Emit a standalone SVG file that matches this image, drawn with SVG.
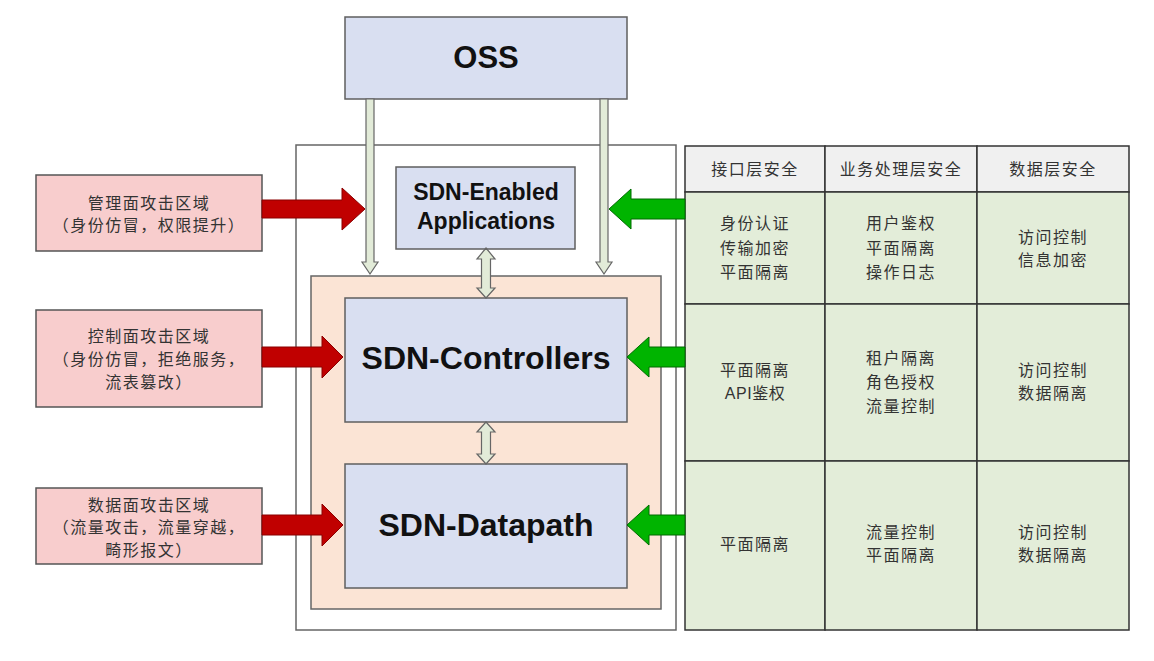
<svg xmlns="http://www.w3.org/2000/svg" width="1154" height="661" viewBox="0 0 1154 661">
<style>
.blue{fill:#d9dff1;stroke:#5f5f5f;stroke-width:1.5}
.big{font-family:"Liberation Sans",Arial,sans-serif;font-weight:bold;fill:#111;text-anchor:middle}
.cn{font-family:"Liberation Sans","Noto Sans CJK SC",sans-serif;font-size:16px;fill:#333;text-anchor:middle;letter-spacing:1.5px}
.pink{fill:#f8cdcd;stroke:#555;stroke-width:1.5}
.red{fill:#c00000;stroke:#8a0000;stroke-width:1}
.green{fill:#00b400;stroke:#006b00;stroke-width:1}
.conn{fill:#e2ebd8;stroke:#666;stroke-width:1.2}
.cell{fill:#e3edd9;stroke:#333;stroke-width:1.5}
.head{fill:#f0f0f0;stroke:#333;stroke-width:1.5}
</style>
<rect width="1154" height="661" fill="#fff"/>
<g id="outer"><rect x="296" y="145" width="380" height="485" fill="#fff" stroke="#666" stroke-width="1.5"/></g>
<g id="core"><rect x="311" y="276" width="350" height="333" fill="#fbe4d5" stroke="#666" stroke-width="1.5"/></g>
<g id="oss"><rect class="blue" x="345" y="17" width="282" height="82"/><text class="big" x="486" y="68" font-size="31">OSS</text></g>
<g id="apps"><rect class="blue" x="396" y="167" width="179" height="82"/><text class="big" x="486" y="200" font-size="23">SDN-Enabled</text><text class="big" x="486" y="229" font-size="23">Applications</text></g>
<g id="controllers"><rect class="blue" x="345" y="298" width="282" height="124"/><text class="big" x="486" y="369" font-size="32">SDN-Controllers</text></g>
<g id="datapath"><rect class="blue" x="345" y="464" width="282" height="124"/><text class="big" x="486" y="536" font-size="32">SDN-Datapath</text></g>
<g id="mgmt-attack"><rect class="pink" x="36" y="175" width="226" height="76"/><text class="cn" x="149" y="209">管理面攻击区域</text><text class="cn" x="149" y="231">（身份仿冒，权限提升）</text></g>
<g id="ctrl-attack"><rect class="pink" x="36" y="310" width="226" height="97"/><text class="cn" x="149" y="342">控制面攻击区域</text><text class="cn" x="149" y="365">（身份仿冒，拒绝服务，</text><text class="cn" x="149" y="388">流表篡改）</text></g>
<g id="data-attack"><rect class="pink" x="36" y="488" width="226" height="76"/><text class="cn" x="149" y="511">数据面攻击区域</text><text class="cn" x="149" y="533">（流量攻击，流量穿越，</text><text class="cn" x="149" y="556">畸形报文）</text></g>
<g id="security-table">
<rect class="head" x="685" y="146" width="140" height="46"/><rect class="head" x="825" y="146" width="152" height="46"/><rect class="head" x="977" y="146" width="152" height="46"/>
<rect class="cell" x="685" y="192" width="140" height="112"/><rect class="cell" x="825" y="192" width="152" height="112"/><rect class="cell" x="977" y="192" width="152" height="112"/>
<rect class="cell" x="685" y="304" width="140" height="157"/><rect class="cell" x="825" y="304" width="152" height="157"/><rect class="cell" x="977" y="304" width="152" height="157"/>
<rect class="cell" x="685" y="461" width="140" height="169"/><rect class="cell" x="825" y="461" width="152" height="169"/><rect class="cell" x="977" y="461" width="152" height="169"/>
<text class="cn" x="755" y="175">接口层安全</text><text class="cn" x="901" y="175">业务处理层安全</text><text class="cn" x="1053" y="175">数据层安全</text>
<text class="cn" x="755" y="229">身份认证</text><text class="cn" x="755" y="254">传输加密</text><text class="cn" x="755" y="278">平面隔离</text>
<text class="cn" x="901" y="229">用户鉴权</text><text class="cn" x="901" y="254">平面隔离</text><text class="cn" x="901" y="278">操作日志</text>
<text class="cn" x="1053" y="243">访问控制</text><text class="cn" x="1053" y="266">信息加密</text>
<text class="cn" x="755" y="376">平面隔离</text><text class="cn" x="755" y="399" style="letter-spacing:0.5px">API鉴权</text>
<text class="cn" x="901" y="364">租户隔离</text><text class="cn" x="901" y="388">角色授权</text><text class="cn" x="901" y="412">流量控制</text>
<text class="cn" x="1053" y="376">访问控制</text><text class="cn" x="1053" y="399">数据隔离</text>
<text class="cn" x="755" y="550">平面隔离</text>
<text class="cn" x="901" y="538">流量控制</text><text class="cn" x="901" y="561">平面隔离</text>
<text class="cn" x="1053" y="538">访问控制</text><text class="cn" x="1053" y="561">数据隔离</text>
</g>
<g id="connectors">
<polygon class="conn" points="366,99 374,99 374,262 378,262 370,274 362,262 366,262"/>
<polygon class="conn" points="600,99 608,99 608,262 612,262 604,274 596,262 600,262"/>
<polygon class="conn" points="486,248 495,259 490.5,259 490.5,288 495,288 486,298 477,288 481.5,288 481.5,259 477,259"/>
<polygon class="conn" points="486,422 495,432 490.5,432 490.5,454 495,454 486,464 477,454 481.5,454 481.5,432 477,432"/>
<polygon class="red" points="262,200 342,200 342,188 365,209 342,230 342,218 262,218"/>
<polygon class="red" points="262,347 322,347 322,336 343,357 322,378 322,367 262,367"/>
<polygon class="red" points="262,515 322,515 322,504 343,525 322,546 322,535 262,535"/>
<polygon class="green" points="685,199 631,199 631,189 609,209 631,229 631,219 685,219"/>
<polygon class="green" points="685,347 649,347 649,337 627,357 649,377 649,367 685,367"/>
<polygon class="green" points="685,515 649,515 649,505 627,525 649,545 649,535 685,535"/>
</g>
</svg>
